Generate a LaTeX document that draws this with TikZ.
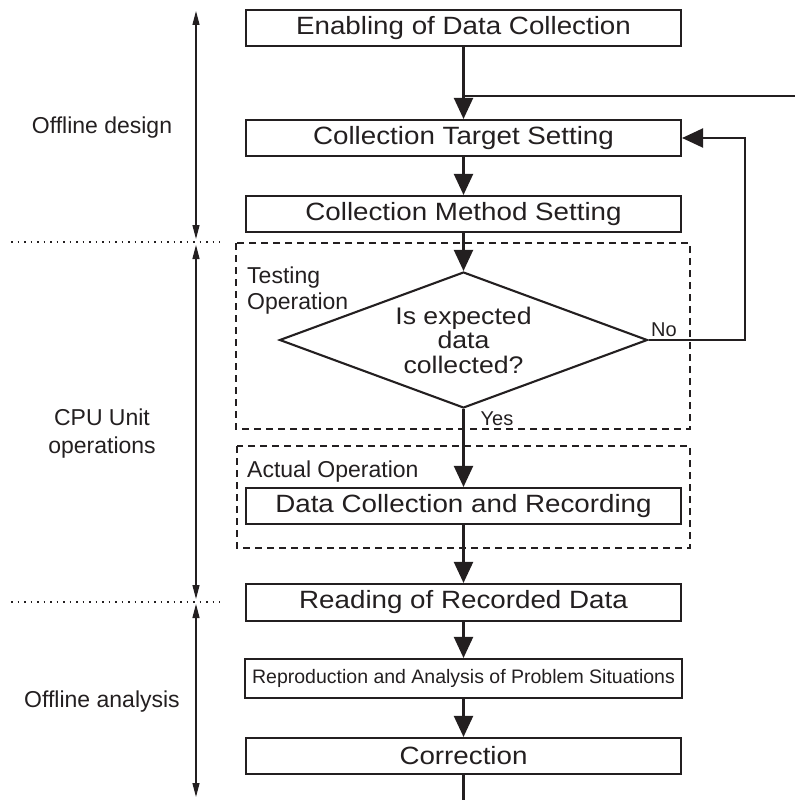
\documentclass[tikz,border=0pt]{standalone}
\usepackage{fontspec}
\setmainfont{Liberation Sans}
\newfontfamily\boxfont[FakeStretch=1.11]{Liberation Sans}
\usetikzlibrary{arrows.meta,shapes.geometric}
\definecolor{ink}{HTML}{231F20}
\begin{document}
\begin{tikzpicture}[x=1pt,y=-1pt,
  every node/.style={text=ink},
  box/.style={draw=ink, line width=2.1, minimum width=435, minimum height=36, inner sep=0,
    font=\boxfont\fontsize{25}{30}\selectfont},
  dia/.style={draw=ink, shape=diamond, line width=2.1, minimum width=368, minimum height=136,
    inner sep=0, shape aspect=2.7, align=center, font=\boxfont\fontsize{24}{24.5}\selectfont},
  flow/.style={draw=ink, line width=2.1, -{Triangle[width=19pt,length=21pt]}},
  plain/.style={draw=ink, line width=2.1},
  span/.style={draw=ink, line width=1.3, {Triangle[width=7pt,length=14pt]}-{Triangle[width=7pt,length=14pt]}},
  dashbox/.style={draw=ink, line width=1.2, dash pattern=on 7pt off 5pt},
  dotline/.style={draw=ink, line width=1.2, dash pattern=on 1.5pt off 5pt},
  lab/.style={font=\fontsize{23}{28}\selectfont, align=center},
  small/.style={font=\fontsize{20}{24}\selectfont, inner sep=0}
]
\useasboundingbox (0,0) rectangle (795,800);

% dashed group frames
\draw[dashbox] (236,243) rectangle (690,429);
\draw[dashbox] (237,446) rectangle (690,548);

% main boxes
\node[box] (b1) at (463.5,28) {Enabling of Data Collection};
\node[box] (b2) at (463.5,138) {Collection Target Setting};
\node[box] (b3) at (463.5,214) {Collection Method Setting};
\node[dia] (d) at (463.5,340) {Is expected\\data\\collected?};
\node[box] (b4) at (463.5,506) {Data Collection and Recording};
\node[box, minimum height=37] (b5) at (463.5,602.5) {Reading of Recorded Data};
\node[box, minimum height=39, minimum width=437, font=\fontsize{19.5}{23}\selectfont] (b6) at (463.5,678.5) {Reproduction and Analysis of Problem Situations};
\node[box] (b7) at (463.5,756) {Correction};

% group labels
\node[lab, align=left, anchor=north west, inner sep=0, font=\fontsize{23}{26}\selectfont] (tst) at (247,266.5) {Testing\\Operation};
\node[lab, anchor=base west, inner sep=0] (act) at (247,477) {Actual Operation};
\node[small] (no) at (664,330) {No};
\node[small] (yes) at (497,419) {Yes};

% left phase labels
\node[lab] (l1) at (102,128) {Offline design};
\node[lab] (l2) at (102,434) {CPU Unit\\operations};
\node[lab] (l3) at (102,702) {Offline analysis};

% flow connectors
\coordinate (br) at (463.5,96);
\coordinate (brE) at (795,96);
\coordinate (lp) at (745,340);
\coordinate (fin) at (463.5,800);
\draw[flow] (b1) -- (b2);
\draw[plain, line width=1.8] (br) -- (brE);
\draw[flow] (b2) -- (b3);
\draw[flow] (b3) -- (d);
\draw[flow] (d) -- (b4);
\draw[flow] (b4) -- (b5);
\draw[flow] (b5) -- (b6);
\draw[flow] (b6) -- (b7);
\draw[plain] (b7) -- (fin);
\draw[flow] (d.east) -- (lp) |- (b2.east);

% phase spans
\coordinate (a0) at (196,11);
\coordinate (a1) at (196,239);
\coordinate (a2) at (196,245);
\coordinate (a3) at (196,599);
\coordinate (a4) at (196,604);
\coordinate (a5) at (196,797);
\draw[span] (a0) -- (a1);
\draw[span] (a2) -- (a3);
\draw[span] (a4) -- (a5);
\coordinate (s1) at (11,242);
\coordinate (s1e) at (220,242);
\coordinate (s2) at (11,602);
\coordinate (s2e) at (220,602);
\draw[dotline] (s1) -- (s1e);
\draw[dotline] (s2) -- (s2e);
\end{tikzpicture}
\end{document}
